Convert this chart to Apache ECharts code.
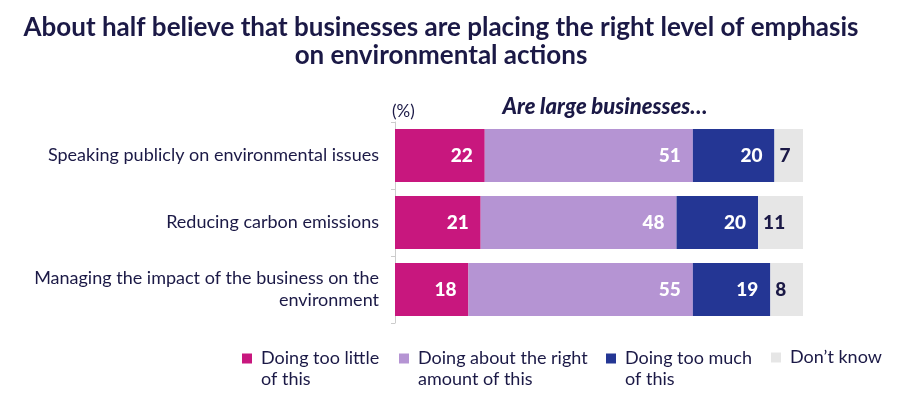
<!DOCTYPE html>
<html>
<head>
<meta charset="utf-8">
<script src="https://cdn.jsdelivr.net/npm/echarts@6/dist/echarts.min.js"></script>
<style>
  html, body { margin: 0; padding: 0; background: #fff; }
  #chart { width: 900px; height: 399px; }
</style>
</head>
<body>
<div id="chart"></div>
<script>
var categories = [
  "Speaking publicly on environmental issues",
  "Reducing carbon emissions",
  "Managing the impact of the business on the\nenvironment"
];
var seriesNames = ["Doing too little of this", "Doing about the right amount of this", "Doing too much of this", "Don\u2019t know"];
var legendLabels = ["Doing too little\nof this", "Doing about the right\namount of this", "Doing too much\nof this", "Don\u2019t know"];
var tooLittle = [22, 21, 18];
var aboutRight = [51, 48, 55];
var tooMuch = [20, 20, 19];
var dontKnow = [7, 11, 8];

var colors = ["#c8177e", "#b594d3", "#243694", "#e6e6e6"];
var navy = "#1b1946";
var font = "Lato";

var chart = echarts.init(document.getElementById("chart"));

function bar(name, data, i) {
  var last = i === 3;
  return {
    name: name,
    type: "bar",
    stack: "all",
    barWidth: 53,
    data: data,
    itemStyle: { color: colors[i] },
    label: {
      show: true,
      position: last ? "insideLeft" : "insideRight",
      distance: last ? 5 : 12,
      color: last ? navy : "#fff",
      fontFamily: font,
      fontWeight: 900,
      fontSize: 19
    },
    emphasis: { disabled: true }
  };
}

// icon sits on the middle line, so a blank first line puts it level with the first text line
var legendLeft = [242, 399, 606, 771];
var legends = seriesNames.map(function (n, i) {
  var two = legendLabels[i].indexOf("\n") >= 0;
  return {
    left: legendLeft[i],
    top: two ? 327 : 347,
    padding: 0,
    itemWidth: 10,
    itemHeight: 10,
    itemGap: 0,
    icon: "rect",
    selectedMode: false,
    formatter: function () { return two ? " \n" + legendLabels[i] : legendLabels[i]; },
    textStyle: { color: navy, fontFamily: font, fontSize: 18, lineHeight: 21, padding: [0, 0, 0, 4] },
    data: [n]
  };
});

chart.setOption({
  animation: false,
  color: colors,
  title: [
    {
      text: "About half believe that businesses are placing the right level of emphasis\non environmental actions",
      left: 436,
      top: 9,
      textAlign: "center",
      textStyle: { color: navy, fontFamily: font, fontWeight: "bold", fontSize: 26, lineHeight: 28 }
    },
    {
      text: "Are large businesses\u2026",
      left: 600,
      top: 91,
      textAlign: "center",
      textStyle: { color: navy, fontFamily: font, fontWeight: 900, fontStyle: "italic", fontSize: 22 }
    },
    {
      text: "(%)",
      left: 392,
      top: 103,
      padding: 0,
      textStyle: { color: navy, fontFamily: font, fontWeight: "normal", fontSize: 17 }
    }
  ],
  legend: legends,
  grid: { left: 395, right: 97, top: 122, bottom: 76 },
  xAxis: { type: "value", min: 0, max: 100, show: false },
  yAxis: {
    type: "category",
    inverse: true,
    data: categories,
    axisLine: { show: true, lineStyle: { color: "#cccccc", width: 1 } },
    axisTick: { show: true, length: 4, lineStyle: { color: "#cccccc" } },
    axisLabel: {
      margin: 16,
      color: navy,
      fontFamily: font,
      fontSize: 18,
      lineHeight: 22,
      align: "right"
    }
  },
  series: [
    bar(seriesNames[0], tooLittle, 0),
    bar(seriesNames[1], aboutRight, 1),
    bar(seriesNames[2], tooMuch, 2),
    bar(seriesNames[3], dontKnow, 3)
  ]
});
</script>
</body>
</html>
